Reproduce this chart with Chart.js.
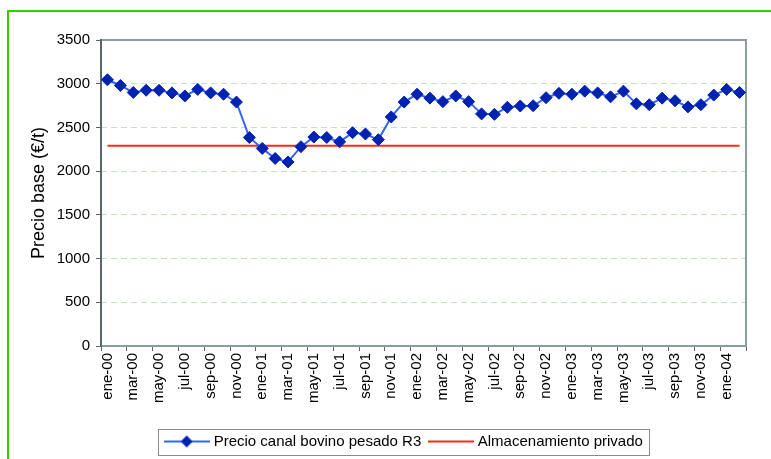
<!DOCTYPE html>
<html>
<head>
<meta charset="utf-8">
<script src="https://cdn.jsdelivr.net/npm/chart.js@4/dist/chart.umd.min.js"></script>
<style>
html, body { margin: 0; padding: 0; background: #fff; overflow: hidden; }
#marco { position: absolute; left: 7px; top: 10px; width: 764px; height: 449px; border-left: 2px solid #33cc00; border-top: 2px solid #33cc00; box-sizing: border-box; }
#caja { position: absolute; left: 0; top: 0; width: 771px; height: 459px; }
</style>
</head>
<body>
<div id="marco"></div>
<div id="caja"><canvas id="grafico" width="771" height="459"></canvas></div>
<script>
// datos (monthly, ene-00 .. feb-04)
const meses = [
    "ene-00", "feb-00", "mar-00", "abr-00", "may-00", "jun-00", "jul-00", "ago-00", "sep-00", "oct-00", "nov-00", "dic-00",
    "ene-01", "feb-01", "mar-01", "abr-01", "may-01", "jun-01", "jul-01", "ago-01", "sep-01", "oct-01", "nov-01", "dic-01",
    "ene-02", "feb-02", "mar-02", "abr-02", "may-02", "jun-02", "jul-02", "ago-02", "sep-02", "oct-02", "nov-02", "dic-02",
    "ene-03", "feb-03", "mar-03", "abr-03", "may-03", "jun-03", "jul-03", "ago-03", "sep-03", "oct-03", "nov-03", "dic-03",
    "ene-04", "feb-04"
];
const precioR3 = [
    3045, 2980, 2900, 2925, 2925, 2895, 2860, 2935, 2895, 2880, 2790, 2385,
    2260, 2145, 2105, 2280, 2390, 2385, 2335, 2440, 2425, 2360, 2620, 2790,
    2880, 2835, 2795, 2860, 2795, 2655, 2650, 2730, 2745, 2748, 2840, 2890,
    2880, 2915, 2895, 2850, 2915, 2770, 2760, 2835, 2805, 2735, 2760, 2870,
    2935, 2900
];
const almacenamiento = [
    2290, 2290, 2290, 2290, 2290, 2290, 2290, 2290, 2290, 2290, 2290, 2290,
    2290, 2290, 2290, 2290, 2290, 2290, 2290, 2290, 2290, 2290, 2290, 2290,
    2290, 2290, 2290, 2290, 2290, 2290, 2290, 2290, 2290, 2290, 2290, 2290,
    2290, 2290, 2290, 2290, 2290, 2290, 2290, 2290, 2290, 2290, 2290, 2290,
    2290, 2290
];
const nombres = ["Precio canal bovino pesado R3", "Almacenamiento privado"];
const yMin = 0, yMax = 3500, yPaso = 500;

const azul = "#3366ff";
const azulMarca = "#0022b0";
const rojo = "#ff2a14";

Chart.defaults.font.family = "'Liberation Sans', Arial, sans-serif";
Chart.defaults.color = "#000";

// icono de leyenda: linea + rombo
function icono(colorLinea, colorMarca) {
    const c = document.createElement("canvas");
    c.width = 46; c.height = 14;
    const g = c.getContext("2d");
    g.strokeStyle = colorLinea; g.lineWidth = 2;
    g.beginPath(); g.moveTo(0, 7); g.lineTo(46, 7); g.stroke();
    if (colorMarca) {
        g.fillStyle = colorMarca;
        g.beginPath();
        g.moveTo(23 - 6, 7); g.lineTo(23, 1); g.lineTo(23 + 6, 7); g.lineTo(23, 13);
        g.closePath(); g.fill();
    }
    return c;
}
const iconos = [icono(azul, azulMarca), icono(rojo, null)];

// marco gris del area de trazado + recuadro de la leyenda
const marcoPlugin = {
    id: "marcoPlot",
    afterLayout(chart) {
        // la leyenda del original no esta centrada en el lienzo
        chart.legend.left += 56;
    },
    beforeDatasetsDraw(chart) {
        const a = chart.chartArea, g = chart.ctx;
        g.save();
        g.lineWidth = 2;
        g.strokeStyle = "#8c9ca4";
        g.strokeRect(a.left, a.top, a.right - a.left, a.bottom - a.top);
        g.strokeStyle = "#59656b";
        g.beginPath(); g.moveTo(a.left, a.top - 1); g.lineTo(a.left, a.bottom + 1); g.stroke();
        g.restore();
    },
    afterDraw(chart) {
        const cajas = chart.legend.legendHitBoxes;
        if (!cajas || !cajas.length) return;
        let izq = Infinity, der = -Infinity, cy = 0;
        cajas.forEach(b => {
            izq = Math.min(izq, b.left);
            der = Math.max(der, b.left + b.width);
            cy = b.top + b.height / 2;
        });
        const g = chart.ctx;
        g.save();
        g.strokeStyle = "#8a8a8a";
        g.lineWidth = 1;
        g.strokeRect(Math.round(izq - 9) + 0.5, Math.round(cy - 13) + 0.5, Math.round(der - izq + 15), 26);
        g.restore();
    }
};

const ctx = document.getElementById("grafico").getContext("2d");
const chart = new Chart(ctx, {
    type: "line",
    data: {
        labels: meses,
        datasets: [
            {
                label: nombres[0],
                data: precioR3,
                borderColor: azul,
                borderWidth: 2,
                pointStyle: "rectRot",
                pointRadius: 6,
                pointBackgroundColor: azulMarca,
                pointBorderColor: azulMarca,
                pointBorderWidth: 1,
                tension: 0
            },
            {
                label: nombres[1],
                data: almacenamiento,
                borderColor: rojo,
                borderWidth: 2,
                pointRadius: 0,
                tension: 0
            }
        ]
    },
    options: {
        responsive: false,
        animation: false,
        devicePixelRatio: 1,
        layout: { padding: { left: 8, top: 40, right: 25, bottom: 0 } },
        plugins: {
            tooltip: { enabled: false },
            legend: {
                position: "bottom",
                labels: {
                    usePointStyle: true,
                    pointStyleWidth: 39,
                    padding: 10,
                    font: { size: 15 },
                    color: "#000",
                    generateLabels(ch) {
                        const items = Chart.defaults.plugins.legend.labels.generateLabels(ch);
                        items.forEach((it, i) => { it.pointStyle = iconos[i]; });
                        return items;
                    }
                }
            }
        },
        scales: {
            x: {
                offset: true,
                border: { display: false },
                grid: {
                    offset: true,
                    drawOnChartArea: false,
                    tickLength: 5,
                    color: c => (c.index === undefined || c.index % 2 === 0) ? "#59656b" : "rgba(0,0,0,0)"
                },
                ticks: {
                    autoSkip: false,
                    minRotation: 90,
                    maxRotation: 90,
                    padding: 2,
                    font: { size: 15 },
                    callback(v, i) { return i % 2 === 0 ? this.getLabelForValue(v) : ""; }
                },
                afterFit(s) { s.height = 78; }
            },
            y: {
                min: yMin,
                max: yMax,
                border: { display: false, dash: [6, 4] },
                grid: {
                    color: c => (c.tick && (c.tick.value === yMin || c.tick.value === yMax)) ? "rgba(0,0,0,0)" : "#bfe6b5",
                    tickColor: "#59656b",
                    tickLength: 5,
                    tickBorderDash: []
                },
                ticks: {
                    stepSize: yPaso,
                    padding: 6,
                    font: { size: 15 },
                    callback: v => String(v)
                },
                title: {
                    display: true,
                    text: "Precio base (€/t)",
                    font: { size: 18 },
                    padding: { top: 20, bottom: 0 }
                },
                afterFit(s) { s.width = 93; }
            }
        }
    },
    plugins: [marcoPlugin]
});
</script>
</body>
</html>
